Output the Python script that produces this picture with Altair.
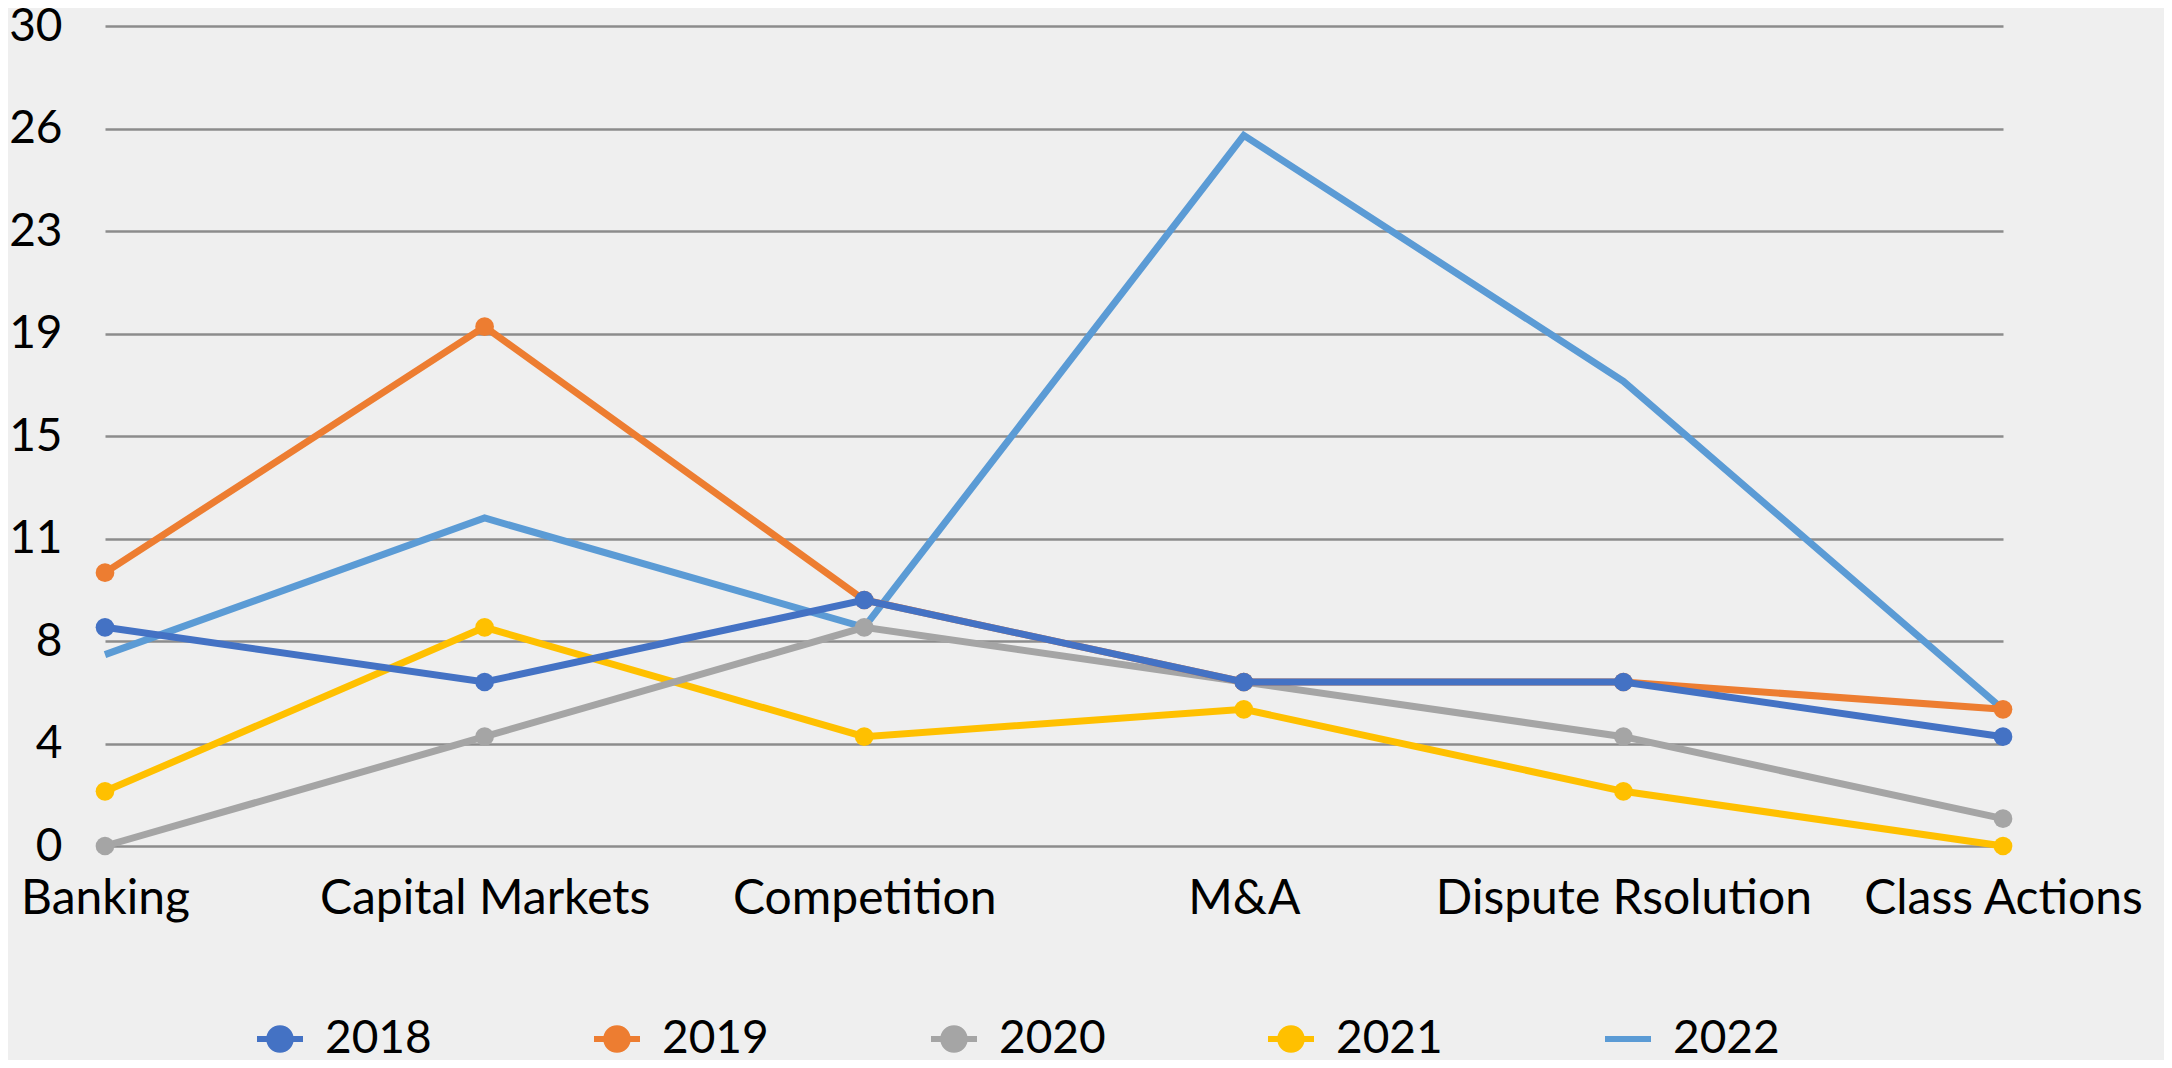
import altair as alt
import pandas as pd

categories = ["Banking", "Capital Markets", "Competition", "M&A", "Dispute Rsolution", "Class Actions"]
years = ["2018", "2019", "2020", "2021", "2022"]
v2018 = [8, 6, 9, 6, 6, 4]
v2019 = [10, 19, 9, 6, 6, 5]
v2020 = [0, 4, 8, 6, 4, 1]
v2021 = [2, 8, 4, 5, 2, 0]
v2022 = [7, 12, 8, 26, 17, 5]
colors = ["#4472C4", "#ED7D31", "#A5A5A5", "#FFC000", "#5B9BD5"]
ytick_values = [0, 3.75, 7.5, 11.25, 15, 18.75, 22.5, 26.25, 30]

series = {"2018": v2018, "2019": v2019, "2020": v2020, "2021": v2021, "2022": v2022}
rows = []
for yr, vals in series.items():
    for c, v in zip(categories, vals):
        rows.append({"category": c, "year": yr, "value": v})
df = pd.DataFrame(rows)

FONT = "Lato"
color_scale = alt.Scale(domain=years, range=colors)

x_enc = alt.X(
    "category:N",
    sort=categories,
    scale=alt.Scale(type="point", domain=categories, padding=0),
    axis=alt.Axis(
        title=None, labelAngle=0, labelFontSize=48, labelFont=FONT, labelColor="black",
        labelPadding=29, ticks=False, domain=False, grid=False,
        labelOverlap=False, labelBound=False, labelLimit=0,
    ),
)
y_enc = alt.Y(
    "value:Q",
    scale=alt.Scale(domain=[0, 30], nice=False, zero=True),
    axis=alt.Axis(
        title=None, values=ytick_values, format=".0f", grid=True,
        gridColor="#8c8c8c", gridWidth=2.5, ticks=False, domain=False,
        labelPadding=43, labelFontSize=46, labelFont=FONT, labelColor="black",
        labelFlush=False,
    ),
)

MARK_PATH = "M-1,-0.13H1V0.13H-1Z M0.6,0A0.6,0.6,0,1,1,-0.6,0A0.6,0.6,0,1,1,0.6,0Z"
BAR_PATH = "M-1,-0.13H1V0.13H-1Z"

leg = alt.Legend(
    title=None, orient="none", legendX=152, legendY=990, direction="horizontal",
    columns=5, symbolSize=2116, symbolStrokeWidth=0, labelFontSize=46, labelFont=FONT,
    labelColor="black", labelOffset=22, columnPadding=162, padding=0, labelLimit=0,
)

# invisible layer carrying the legend (size 0 marks)
legend_layer = alt.Chart(df).mark_point(filled=True, opacity=1).encode(
    x=x_enc, y=y_enc,
    color=alt.Color("year:N", scale=color_scale, legend=leg),
    shape=alt.Shape("year:N", scale=alt.Scale(domain=years, range=[MARK_PATH] * 4 + [BAR_PATH]), legend=leg),
    size=alt.value(0),
)

layers = [legend_layer]
for yr in reversed(years):
    base = alt.Chart(df).transform_filter(alt.datum.year == yr)
    line = base.mark_line(strokeWidth=7).encode(
        x=x_enc, y=y_enc,
        color=alt.Color("year:N", scale=color_scale, legend=None),
    )
    layers.append(line)
    if yr != "2022":
        pts = base.mark_point(filled=True, opacity=1, size=350, shape="circle").encode(
            x=x_enc, y=y_enc,
            color=alt.Color("year:N", scale=color_scale, legend=None),
        )
        layers.append(pts)

chart = alt.layer(*layers).properties(
    width=1898, height=820,
    autosize=alt.AutoSizeParams(type="none"),
    padding={"left": 97, "top": 18, "right": 161, "bottom": 214},
    background="#efefef",
).configure_view(stroke=None)

chart.save("out.html", embed_options={"renderer": "svg", "actions": False})
